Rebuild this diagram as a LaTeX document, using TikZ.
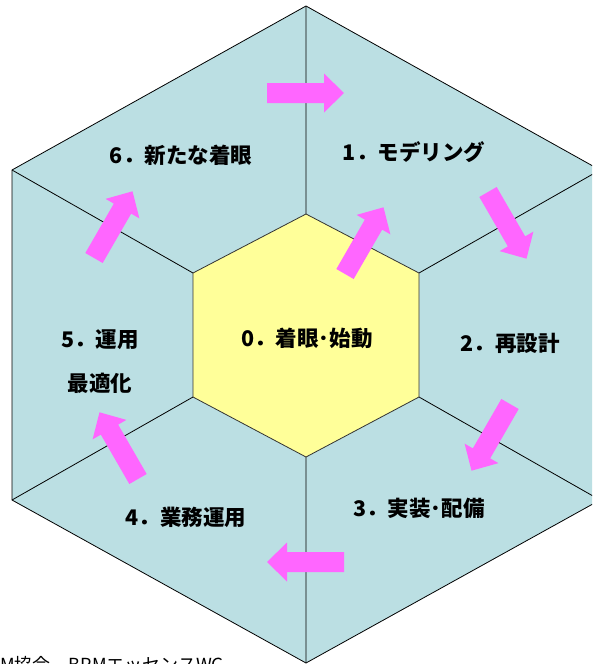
\documentclass[tikz,border=0pt]{standalone}
\usepackage{fontspec}
\newfontfamily\jp{Noto Sans CJK JP}
\definecolor{cellblue}{RGB}{187,223,227}
\definecolor{coreyellow}{RGB}{255,255,153}
\definecolor{arrowpink}{RGB}{255,102,255}
\tikzset{
  edge/.style={draw=black, line width=0.8pt},
  lbl/.style={font=\jp\bfseries\fontsize{21.5}{26}\selectfont, inner sep=0pt, align=center},
  blockarrow/.pic={\fill[arrowpink] (0,-10) -- (57,-10) -- (57,-19.5) -- (77,0) -- (57,19.5) -- (57,10) -- (0,10) -- cycle;}
}
\begin{document}
\begin{tikzpicture}[x=1pt,y=-1pt]
\useasboundingbox (0,0) rectangle (592,664);
\clip (0,0) rectangle (592,664);
\fill[white] (0,0) rectangle (592,664);
% outer vertices
\coordinate (T) at (306,6);
\coordinate (UR) at (600,170);
\coordinate (LR) at (600,500);
\coordinate (B) at (306,663);
\coordinate (LL) at (12,500);
\coordinate (UL) at (12,170);
% inner vertices
\coordinate (t) at (306,214);
\coordinate (ur) at (419,273);
\coordinate (lr) at (419,397);
\coordinate (b) at (306,457);
\coordinate (ll) at (193,397);
\coordinate (ul) at (193,273);
\filldraw[fill=cellblue, edge] (T) -- (UR) -- (LR) -- (B) -- (LL) -- (UL) -- cycle;
\draw[edge] (T) -- (t) (UR) -- (ur) (LR) -- (lr) (B) -- (b) (LL) -- (ll) (UL) -- (ul);
\filldraw[fill=coreyellow, draw=black!80, line width=0.8pt] (t) -- (ur) -- (lr) -- (b) -- (ll) -- (ul) -- cycle;
% arrows
\pic[rotate=0] at (267,93) {blockarrow};
\pic[rotate=-60] at (488,192) {blockarrow};
\pic[rotate=-120] at (510,404) {blockarrow};
\pic[rotate=180] at (344,562) {blockarrow};
\pic[rotate=120] at (138,479) {blockarrow};
\pic[rotate=60] at (94,258) {blockarrow};
\pic[rotate=60] at (345,274) {blockarrow};
% labels
\node[lbl] (l0) at (307,338) {0．着眼･始動};
\node[lbl] (l1) at (414,152) {1．モデリング};
\node[lbl] (l2) at (510,343) {2．再設計};
\node[lbl] (l3) at (419,508) {3．実装･配備};
\node[lbl] (l4) at (186,517) {4．業務運用};
\node[lbl] (l5a) at (100,340) {5．運用};
\node[lbl] (l5b) at (100,383) {最適化};
\node[lbl] (l6) at (181,155) {6．新たな着眼};
\node[font=\jp\fontsize{18}{22}\selectfont, inner sep=0pt, anchor=base west] (src) at (0,671) {M協会　BPMエッセンスWG};
\end{tikzpicture}
\end{document}
